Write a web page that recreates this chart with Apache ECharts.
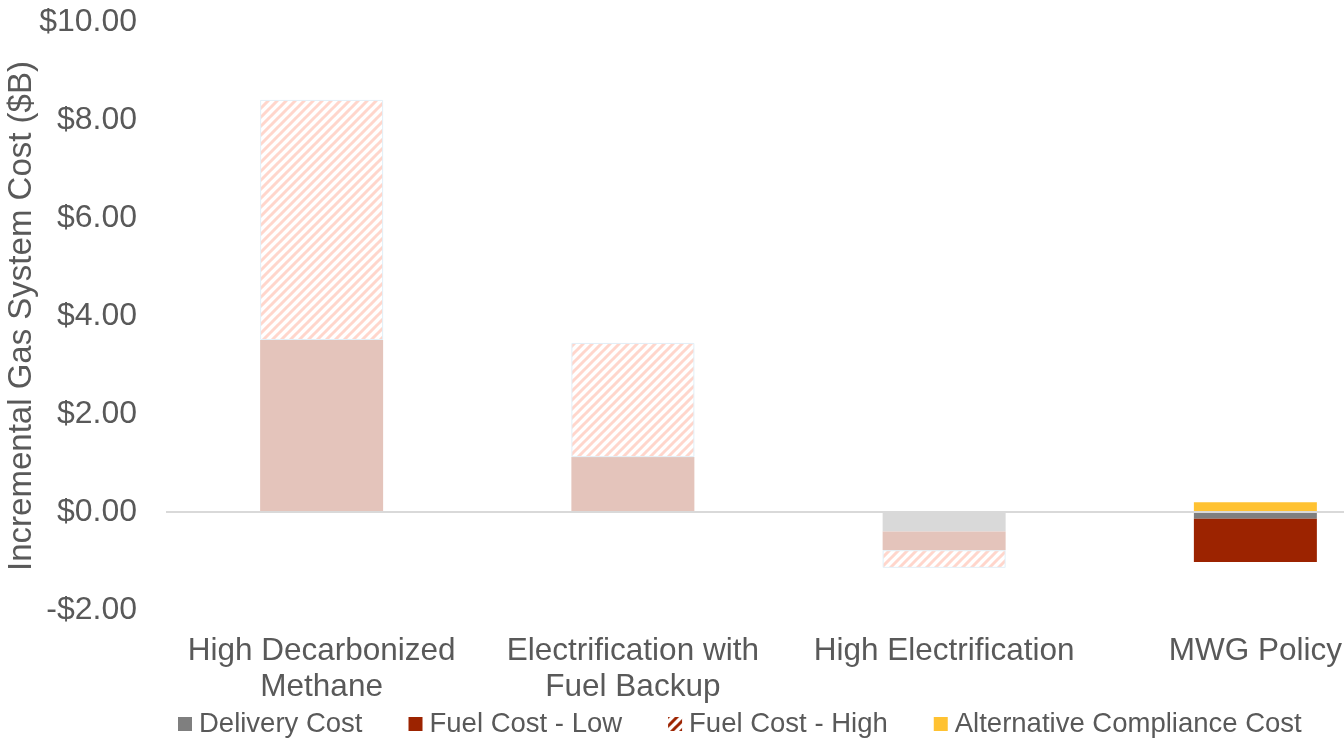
<!DOCTYPE html>
<html>
<head>
<meta charset="utf-8">
<script src="https://cdn.jsdelivr.net/npm/echarts@6/dist/echarts.min.js"></script>
<style>html,body{margin:0;padding:0;background:#fff}#c{width:1344px;height:738px}</style>
</head>
<body>
<div id="c"></div>
<script>
const categories = ['High Decarbonized\nMethane', 'Electrification with\nFuel Backup', 'High Electrification', 'MWG Policy'];
const deliveryCost = [0, 0, -0.40, -0.14];
const fuelCostLow = [3.51, 1.12, -0.38, -0.88];
const fuelCostHigh = [4.90, 2.33, -0.36, 0];
const altComplianceCost = [0, 0, 0, 0.20];
const seriesNames = ['Delivery Cost', 'Fuel Cost - Low', 'Fuel Cost - High', 'Alternative Compliance Cost'];
const yTicks = { min: -2, max: 10, interval: 2 };
// first three scenarios shown faded, last one highlighted
const highlighted = [false, false, false, true];

function hatch(stripe, bg) {
  const s = 9;
  const c = document.createElement('canvas');
  c.width = s; c.height = s;
  const g = c.getContext('2d');
  g.fillStyle = bg; g.fillRect(0, 0, s, s);
  g.strokeStyle = stripe; g.lineWidth = 3;
  g.beginPath();
  for (let k = -1; k <= 1; k++) {
    g.moveTo(k * s - 1, s + 1);
    g.lineTo(k * s + s + 1, -1);
  }
  g.stroke();
  return { image: c, repeat: 'repeat' };
}

const fullColors = ['#7f7f7f', '#9c2300', hatch('#9c2300', '#ffffff'), '#ffc232'];
const fadedColors = ['#d9d9d9', '#e4c4bb', hatch('#ffd6cc', '#ffffff'), '#ffedc0'];

function buildData(values, si) {
  return values.map((v, i) => ({
    value: v === 0 ? '-' : v,
    itemStyle: Object.assign(
      { color: highlighted[i] ? fullColors[si] : fadedColors[si] },
      si === 2 ? { borderColor: '#e2eff7', borderWidth: 1 } : {}
    )
  }));
}

const valueArrays = [deliveryCost, fuelCostLow, fuelCostHigh, altComplianceCost];
const txt = '#595959';
const font = 'Liberation Sans, Arial, sans-serif';

const series = valueArrays.map((vals, si) => ({
  name: seriesNames[si],
  type: 'bar',
  stack: 'total',
  barWidth: 123,
  itemStyle: { color: fullColors[si] },
  data: buildData(vals, si),
  emphasis: { disabled: true }
}));
series[series.length - 1].markLine = {
  silent: true,
  symbol: 'none',
  label: { show: false },
  lineStyle: { color: '#d9d9d9', width: 2, type: 'solid' },
  data: [{ yAxis: 0 }]
};

const chart = echarts.init(document.getElementById('c'), null, { renderer: 'canvas' });
chart.setOption({
  animation: false,
  backgroundColor: '#ffffff',
  textStyle: { fontFamily: font },
  grid: { left: 166, width: 1245, top: 22, height: 588, containLabel: false, outerBoundsMode: 'none' },
  legend: {
    top: 705,
    left: 173,
    itemWidth: 14,
    itemHeight: 14,
    itemGap: 46,
    icon: 'rect',
    textStyle: { color: txt, fontSize: 27.5, fontFamily: font, padding: [0, 0, 0, 2] },
    data: seriesNames.map((n, i) => ({ name: n, itemStyle: { color: fullColors[i], borderWidth: 0 } }))
  },
  xAxis: {
    type: 'category',
    data: categories,
    axisLine: { show: false, onZero: false },
    axisTick: { show: false },
    axisLabel: { color: txt, fontSize: 31.5, fontFamily: font, lineHeight: 36, margin: 23, interval: 0, hideOverlap: false },
    splitLine: { show: false }
  },
  yAxis: {
    type: 'value',
    min: yTicks.min,
    max: yTicks.max,
    interval: yTicks.interval,
    name: 'Incremental Gas System Cost ($B)',
    nameLocation: 'middle',
    nameGap: 128,
    nameMoveOverlap: false,
    nameTextStyle: { color: txt, fontSize: 33, fontFamily: font },
    axisLine: { show: false },
    axisTick: { show: false },
    splitLine: { show: false },
    axisLabel: {
      color: txt, fontSize: 32, fontFamily: font, margin: 29,
      formatter: v => (v < 0 ? '-$' : '$') + Math.abs(v).toFixed(2)
    }
  },
  series: series
});
</script>
</body>
</html>
